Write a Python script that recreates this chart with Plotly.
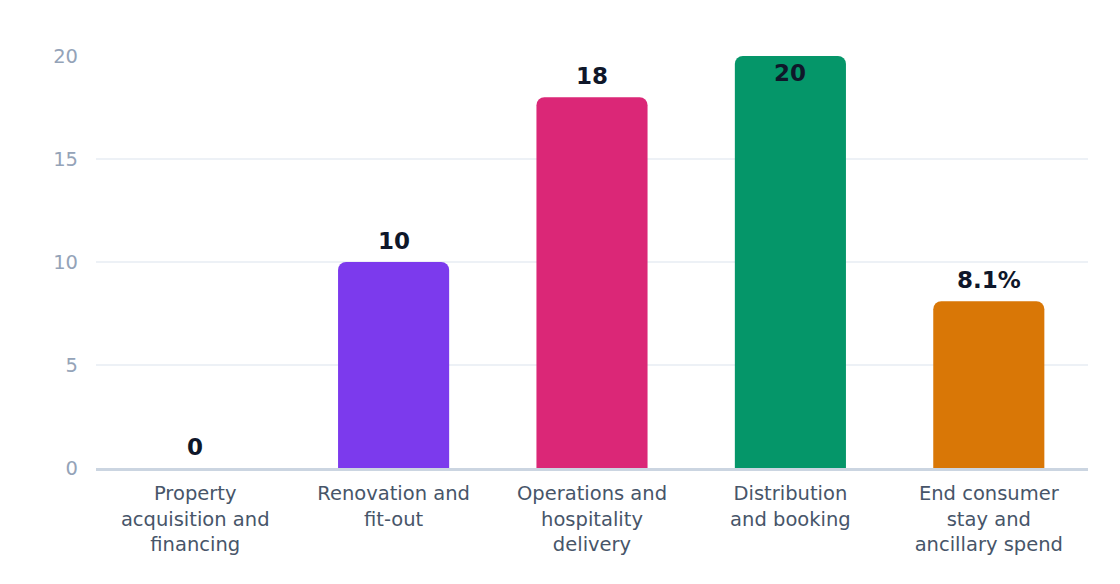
import plotly.graph_objects as go

categories = [
    "Property<br>acquisition and<br>financing",
    "Renovation and<br>fit-out",
    "Operations and<br>hospitality<br>delivery",
    "Distribution<br>and booking",
    "End consumer<br>stay and<br>ancillary spend",
]
values = [0, 10, 18, 20, 8.1]
value_labels = ["0", "10", "18", "20", "8.1%"]
bar_colors = ["#2563eb", "#7c3aed", "#db2777", "#059669", "#d97706"]
y_ticks = [0, 5, 10, 15, 20]
y_max = 20

fig = go.Figure(
    go.Bar(
        x=categories,
        y=values,
        marker=dict(color=bar_colors, cornerradius=8, line=dict(width=0)),
        width=0.56,
        hoverinfo="skip",
    )
)

# value labels above bars; clamped inside the plot when there is no room above
annotations = []
for cat, val, lab in zip(categories, values, value_labels):
    near_top = val > y_max * 0.95
    annotations.append(
        dict(
            x=cat,
            y=val,
            text=lab,
            showarrow=False,
            xanchor="center",
            yanchor="top" if near_top else "bottom",
            yshift=-2 if near_top else 6,
            font=dict(family="DejaVu Sans", size=23, color="#0f172a", weight="bold"),
        )
    )

fig.update_layout(
    width=1120,
    height=584,
    margin=dict(l=88, r=40, t=48, b=124),
    paper_bgcolor="white",
    plot_bgcolor="white",
    showlegend=False,
    font=dict(family="DejaVu Sans", size=19.5, color="#475569"),
    annotations=annotations,
)
fig.update_yaxes(
    range=[0, y_max],
    tickvals=y_ticks,
    showgrid=True,
    gridcolor="#edf1f6",
    gridwidth=1.5,
    zeroline=False,
    tickfont=dict(family="DejaVu Sans", size=19.5, color="#94a3b8"),
    ticklabelstandoff=17,
)
fig.update_xaxes(
    showline=True,
    linecolor="#cbd5e1",
    linewidth=2.5,
    showgrid=False,
    tickfont=dict(family="DejaVu Sans", size=19.5, color="#475569"),
    ticklabelstandoff=6,
)

fig.write_html("out.html")
